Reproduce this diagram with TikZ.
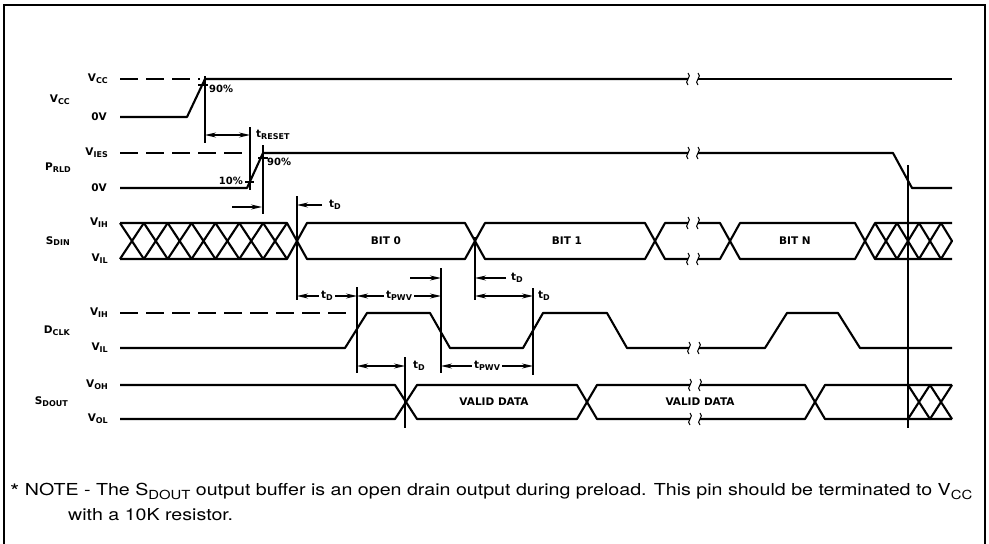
\documentclass[tikz,border=0pt]{standalone}
\usepackage{fontspec}
\usepackage{graphicx}
\setmainfont{TeX Gyre Heros}
\newfontfamily\lblfont{DejaVu Sans}
\usetikzlibrary{arrows.meta}
\newcommand\lsub[1]{\raisebox{-0.3ex}{\fontsize{8}{9}\selectfont #1}}
\newcommand\nsub[1]{\raisebox{-0.5ex}{\fontsize{12.5}{13}\selectfont #1}}
\newcommand\brk[2]{\draw[line width=1pt] (#1,#2-6) .. controls (#1+5,#2-3) and (#1-5,#2+3) .. (#1,#2+6);}
\newcommand\notefont{\normalfont\fontsize{16.5}{20}\selectfont}
\newcommand\noteone{\raisebox{-0.45ex}{\fontsize{20}{20}\selectfont *} NOTE - The S\nsub{DOUT} output buffer is an open drain output during preload. This pin should be terminated to V\nsub{CC}}
\newsavebox\nbox
\begin{document}
\begin{tikzpicture}[x=1pt,y=-1pt,
  wave/.style={line width=2.1pt, line join=round},
  guide/.style={line width=1.1pt},
  lvl/.style={line width=1.3pt, dash pattern=on 18pt off 8pt},
  dimarr/.style={line width=1.3pt, {Stealth[length=11pt,width=5pt]}-{Stealth[length=11pt,width=5pt]}},
  onearr/.style={line width=1.3pt, -{Stealth[length=11pt,width=5pt]}},
  lab/.style={font=\lblfont\bfseries\fontsize{10.5}{12}\selectfont, inner sep=0pt},
  lvlab/.style={lab, anchor=east},
  pct/.style={font=\lblfont\bfseries\fontsize{10}{12}\selectfont, inner sep=0pt},
  dlab/.style={font=\lblfont\bfseries\fontsize{10.5}{12}\selectfont, inner sep=2.5pt, fill=white},
  note/.style={inner sep=0pt, anchor=base west}
]
\useasboundingbox (0,0) rectangle (989,544);
% frame
\draw[line width=1.6pt] (4,546) -- (4,5) -- (985,5) -- (985,546);

% signal names
\node[lvlab] (nvcc) at (70,100) {V\lsub{CC}};
\node[lvlab] (nprld) at (71,168) {P\lsub{RLD}};
\node[lvlab] (nsdin) at (70,241) {S\lsub{DIN}};
\node[lvlab] (ndclk) at (70,331) {D\lsub{CLK}};
\node[lvlab] (nsdout) at (68,402) {S\lsub{DOUT}};

% level labels
\node[lvlab] (l1) at (108,79) {V\lsub{CC}};
\node[lvlab] (l2) at (107,117) {0V};
\node[lvlab] (l3) at (108,153) {V\lsub{IES}};
\node[lvlab] (l4) at (107,188) {0V};
\node[lvlab] (l5) at (108,223) {V\lsub{IH}};
\node[lvlab] (l6) at (108,259) {V\lsub{IL}};
\node[lvlab] (l7) at (108,313) {V\lsub{IH}};
\node[lvlab] (l8) at (108,348) {V\lsub{IL}};
\node[lvlab] (l9) at (108,385) {V\lsub{OH}};
\node[lvlab] (l10) at (108,419) {V\lsub{OL}};

% dashed reference levels
\draw[lvl] (120,79) -- (200,79);
\draw[lvl] (120,153) -- (245,153);
\draw[lvl] (120,313) -- (350,313);

% VCC
\draw[wave] (120,117) -- (187,117) -- (205,79) -- (688,79);
\draw[wave] (698,79) -- (952,79);
% PRLD
\draw[wave] (120,188) -- (247,188) -- (263,153) -- (688,153);
\draw[wave] (698,153) -- (893,153) -- (912,188) -- (952,188);
% SDIN
\draw[wave] (120,223) -- (287,223) -- (307,259) -- (465,259) -- (485,223) -- (645,223) -- (665,259) -- (688,259);
\draw[wave] (120,259) -- (287,259) -- (307,223) -- (465,223) -- (485,259) -- (645,259) -- (665,223) -- (688,223);
\draw[wave] (698,223) -- (720,223) -- (740,259) -- (855,259) -- (875,223) -- (952,223);
\draw[wave] (698,259) -- (720,259) -- (740,223) -- (855,223) -- (875,259) -- (952,259);
\foreach \k in {0,...,6} {
  \pgfmathsetmacro\xa{120+\k*23.857}
  \pgfmathsetmacro\xb{120+(\k+1)*23.857}
  \draw[wave] (\xa,223) -- (\xb,259) (\xa,259) -- (\xb,223);
}
\foreach \a/\b in {875/897, 897/919, 919/941}
  \draw[wave] (\a,223) -- (\b,259) (\a,259) -- (\b,223);
\draw[wave] (941,223) -- (952,241) -- (941,259);
% DCLK
\draw[wave] (120,348) -- (345,348) -- (367,313) -- (430,313) -- (450,348) -- (523,348) -- (543,313) -- (607,313) -- (627,348) -- (689,348);
\draw[wave] (699,348) -- (765,348) -- (787,313) -- (838,313) -- (860,348) -- (952,348);
% SDOUT
\draw[wave] (120,385) -- (395,385) -- (417,419) -- (577,419) -- (597,385) -- (690,385);
\draw[wave] (120,419) -- (395,419) -- (417,385) -- (577,385) -- (597,419) -- (690,419);
\draw[wave] (700,385) -- (805,385) -- (825,419) -- (952,419);
\draw[wave] (700,419) -- (805,419) -- (825,385) -- (952,385);
\draw[wave] (908,385) -- (930,419) -- (952,385) (908,419) -- (930,385) -- (952,419);

% breaks
\brk{688}{79}\brk{698}{79}
\brk{688}{153}\brk{698}{153}
\brk{688}{223}\brk{698}{223}
\brk{688}{259}\brk{698}{259}
\brk{689}{348}\brk{699}{348}
\brk{690}{385}\brk{700}{385}
\brk{690}{419}\brk{700}{419}

% data labels
\node[lab] (b0) at (386,241) {BIT 0};
\node[lab] (b1) at (567,241) {BIT 1};
\node[lab] (bn) at (795,241) {BIT N};
\node[lab] (vd1) at (494,402) {VALID DATA};
\node[lab] (vd2) at (700,402) {VALID DATA};

% guide lines
\draw[guide] (205,76) -- (205,143);
\draw[guide] (250,127) -- (250,190);
\draw[guide] (263,145) -- (263,214);
\draw[guide] (297,196) -- (297,300);
\draw[guide] (357,287) -- (357,373);
\draw[guide] (441,268) -- (441,373);
\draw[guide] (475,237) -- (475,300);
\draw[guide] (533,288) -- (533,375);
\draw[guide] (405,357) -- (405,428);
\draw[guide] (908,165) -- (908,428);
% percent ticks
\draw[guide] (198,85) -- (208,85);
\draw[guide] (245,182) -- (254,182);
\draw[guide] (258,158) -- (268,158);
\node[pct, anchor=west] (p1) at (209,89) {90\%};
\node[pct, anchor=east] (p2) at (243,181) {10\%};
\node[pct, anchor=west] (p3) at (267,162) {90\%};

% arrows
\coordinate (r1) at (205,135); \coordinate (r2) at (250,135);
\draw[dimarr] (r1) -- (r2);
\node[lab, anchor=west] (tres) at (256,135) {t\lsub{RESET}};

\coordinate (s1) at (232,207); \coordinate (s2) at (262,207);
\draw[onearr] (s1) -- (s2);

\coordinate (d1a) at (322,205); \coordinate (d1b) at (297,205);
\draw[onearr] (d1a) -- (d1b);
\node[lab, anchor=west] (td1) at (329,205) {t\lsub{D}};

\coordinate (e1) at (297,296); \coordinate (e2) at (357,296); \coordinate (e3) at (441,296);
\draw[dimarr] (e1) -- (e2) node[midway, dlab] (td2) {t\lsub{D}};
\draw[dimarr] (e2) -- (e3) node[midway, dlab] (tp1) {t\lsub{PWV}};

\coordinate (f1) at (410,278); \coordinate (f2) at (441,278);
\draw[onearr] (f1) -- (f2);

\coordinate (g1) at (506,278); \coordinate (g2) at (475,278);
\draw[onearr] (g1) -- (g2);
\node[lab, anchor=west] (td3) at (511,278) {t\lsub{D}};

\coordinate (h1) at (475,296); \coordinate (h2) at (533,296);
\draw[dimarr] (h1) -- (h2);
\node[lab, anchor=west] (td4) at (538,296) {t\lsub{D}};

\coordinate (k1) at (357,366); \coordinate (k2) at (405,366); \coordinate (k3) at (441,366); \coordinate (k4) at (533,366);
\draw[dimarr] (k1) -- (k2);
\node[lab, anchor=west] (td5) at (413,366) {t\lsub{D}};
\draw[dimarr] (k3) -- (k4) node[midway, dlab] (tp2) {t\lsub{PWV}};

% note (first line stretched to the reference's width; second line uses the same factor)
\node[note] (note1) at (10,495) {\sbox\nbox{\notefont\noteone}%
  \pgfmathparse{962/\the\wd\nbox}\xdef\nsx{\pgfmathresult}%
  \resizebox{962pt}{\ht\nbox}{\usebox\nbox}};
\node[note] (note2) at (68,520) {\scalebox{\nsx}[1]{\notefont with a 10K resistor.}};
\end{tikzpicture}
\end{document}
